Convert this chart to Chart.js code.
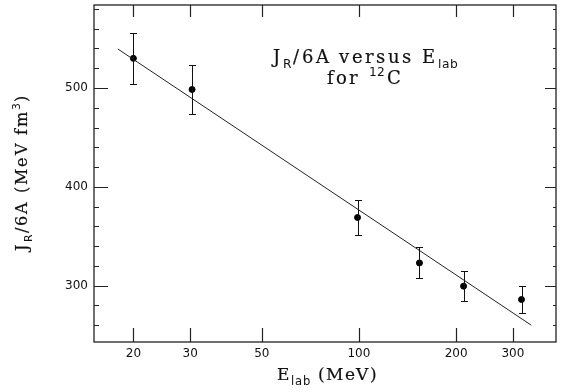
<!DOCTYPE html>
<html>
<head>
<meta charset="utf-8">
<title>JR/6A versus Elab for 12C</title>
<script src="https://cdn.jsdelivr.net/npm/chart.js@4"></script>
<style>
  html, body { margin: 0; padding: 0; background: #fff; }
  #wrap { width: 561px; height: 392px; position: relative; }
</style>
</head>
<body>
<div id="wrap"><canvas id="jrChart"></canvas></div>
<script>
/* =========================
   Data
========================= */

// measured points: lab energy (MeV), J_R/6A (MeV fm^3), error
const energies = [20, 30.4, 99, 154, 211, 319];
const jrValues = [530, 498.5, 369, 323, 299.5, 286];
const jrErrors = [26, 24.5, 17.5, 15.7, 15, 14];

// straight-line fit in log(E)
const fitEnergies = [17.9, 342];
const fitValues = [539.5, 260];

// axis ticks
const xTicks = [20, 30, 50, 100, 200, 300];
const yMajorTicks = [300, 400, 500];
const yMinorTicks = [260, 280, 320, 340, 360, 380, 420, 440, 460, 480, 520, 540, 560, 580];

const xRange = [15.1, 408];
const yRange = [243, 584];

/* =========================
   Helpers
========================= */

const SERIF = '"DejaVu Serif", "Liberation Serif", serif';
const SANS = '"DejaVu Sans", "Liberation Sans", sans-serif';

function partFont(p, size) {
  return (p.sub || p.sup) ? `${size * 0.68}px ${SANS}` : `${size}px ${SERIF}`;
}

function partSpacing(p, spacing) {
  return (p.sub || p.sup) ? spacing * 0.3 : spacing;
}

// char-by-char so the spacing looks like the old plotting fonts
function partWidth(ctx, p, size, spacing) {
  ctx.font = partFont(p, size);
  const sp = partSpacing(p, spacing);
  let w = 0;
  for (const ch of p.t) w += ctx.measureText(ch).width + sp;
  return w + (p.gap || 0);
}

function drawRich(ctx, parts, size, cx, baseline, spacing = 0) {
  const total = parts.reduce((s, p) => s + partWidth(ctx, p, size, spacing), 0);
  let x = cx - total / 2;
  ctx.textBaseline = "alphabetic";
  ctx.textAlign = "left";
  ctx.lineWidth = 0.2;
  ctx.strokeStyle = ctx.fillStyle;
  for (const p of parts) {
    let y = baseline;
    if (p.sub) y += size * 0.3;
    else if (p.sup) y -= size * 0.45;
    ctx.font = partFont(p, size);
    const sp = partSpacing(p, spacing);
    for (const ch of p.t) {
      const cx0 = Math.round(x);
      ctx.fillText(ch, cx0, y);
      if (!p.sub && !p.sup) ctx.strokeText(ch, cx0, y);
      x += ctx.measureText(ch).width + sp;
    }
    x += p.gap || 0;
  }
}

/* =========================
   Plugins
========================= */

const errorBars = {
  id: "errorBars",
  afterDatasetsDraw(chart) {
    const { ctx, scales: { x, y } } = chart;
    ctx.save();
    ctx.strokeStyle = "#111";
    ctx.lineWidth = 1;
    energies.forEach((e, i) => {
      const px = Math.round(x.getPixelForValue(e)) + 0.5;
      const top = Math.round(y.getPixelForValue(jrValues[i] + jrErrors[i])) + 0.5;
      const bot = Math.round(y.getPixelForValue(jrValues[i] - jrErrors[i])) + 0.5;
      ctx.beginPath();
      ctx.moveTo(px, top); ctx.lineTo(px, bot);
      ctx.moveTo(px - 3.5, top); ctx.lineTo(px + 3.5, top);
      ctx.moveTo(px - 3.5, bot); ctx.lineTo(px + 3.5, bot);
      ctx.stroke();
    });
    ctx.restore();
  }
};

const frameAndLabels = {
  id: "frameAndLabels",
  afterDraw(chart) {
    const { ctx, chartArea: a, scales: { x, y } } = chart;
    ctx.save();
    ctx.strokeStyle = "#222";
    ctx.fillStyle = "#111";

    // frame
    ctx.lineWidth = 1.3;
    ctx.strokeRect(a.left, a.top, a.right - a.left, a.bottom - a.top);

    // x ticks (bottom + top)
    ctx.lineWidth = 1.2;
    ctx.beginPath();
    for (const v of xTicks) {
      const px = Math.round(x.getPixelForValue(v)) + 0.5;
      ctx.moveTo(px, a.bottom); ctx.lineTo(px, a.bottom - 14);
      ctx.moveTo(px, a.top); ctx.lineTo(px, a.top + 12);
    }
    // y ticks (left + right)
    for (const v of yMajorTicks) {
      const py = Math.round(y.getPixelForValue(v)) + 0.5;
      ctx.moveTo(a.left, py); ctx.lineTo(a.left + 14, py);
      ctx.moveTo(a.right, py); ctx.lineTo(a.right - 11, py);
    }
    ctx.stroke();
    ctx.lineWidth = 1;
    ctx.beginPath();
    for (const v of yMinorTicks) {
      const py = Math.round(y.getPixelForValue(v)) + 0.5;
      ctx.moveTo(a.left, py); ctx.lineTo(a.left + 5, py);
      ctx.moveTo(a.right, py); ctx.lineTo(a.right - 3, py);
    }
    ctx.stroke();

    // tick labels
    ctx.font = `12px ${SANS}`;
    ctx.textAlign = "center";
    ctx.textBaseline = "middle";
    for (const v of xTicks) ctx.fillText(String(v), x.getPixelForValue(v), a.bottom + 12);
    ctx.textAlign = "right";
    for (const v of yMajorTicks) ctx.fillText(String(v), a.left - 6, y.getPixelForValue(v));

    // in-plot caption
    drawRich(ctx, [{ t: "J" }, { t: "R", sub: true, gap: 1 }, { t: "/6A versus E" }, { t: "lab", sub: true }], 18, 366, 63, 2.5);
    drawRich(ctx, [{ t: "for " }, { t: "12", sup: true, gap: 1 }, { t: "C" }], 18, 365, 84, 2.5);

    // axis titles
    drawRich(ctx, [{ t: "E" }, { t: "lab", sub: true, gap: 7 }, { t: "(MeV)" }], 17, 328, 380, 1.6);
    ctx.save();
    ctx.translate(27, 172);
    ctx.rotate(-Math.PI / 2);
    drawRich(ctx, [{ t: "J" }, { t: "R", sub: true, gap: 1 }, { t: "/6A (MeV fm" }, { t: "3", sup: true, gap: 1 }, { t: ")" }], 16, 0, 0, 1.9);
    ctx.restore();

    ctx.restore();
  }
};

/* =========================
   Chart
========================= */

function initJrChart() {
  const canvas = document.getElementById("jrChart");
  if (!canvas) return console.warn("Missing canvas #jrChart");

  return new Chart(canvas, {
    type: "scatter",
    data: {
      datasets: [
        {
          label: "fit",
          type: "line",
          data: fitEnergies.map((e, i) => ({ x: e, y: fitValues[i] })),
          borderColor: "#222",
          borderWidth: 1,
          pointRadius: 0,
          fill: false
        },
        {
          label: "data",
          data: energies.map((e, i) => ({ x: e, y: jrValues[i] })),
          backgroundColor: "#000",
          borderColor: "#000",
          pointRadius: 3
        }
      ]
    },
    options: {
      responsive: true,
      maintainAspectRatio: false,
      animation: false,
      layout: { padding: { left: 94, top: 5, right: 2, bottom: 50 } },
      plugins: { legend: { display: false }, tooltip: { enabled: false } },
      scales: {
        x: { type: "logarithmic", min: xRange[0], max: xRange[1], display: false },
        y: { type: "linear", min: yRange[0], max: yRange[1], display: false }
      }
    },
    plugins: [errorBars, frameAndLabels]
  });
}

initJrChart();
</script>
</body>
</html>
